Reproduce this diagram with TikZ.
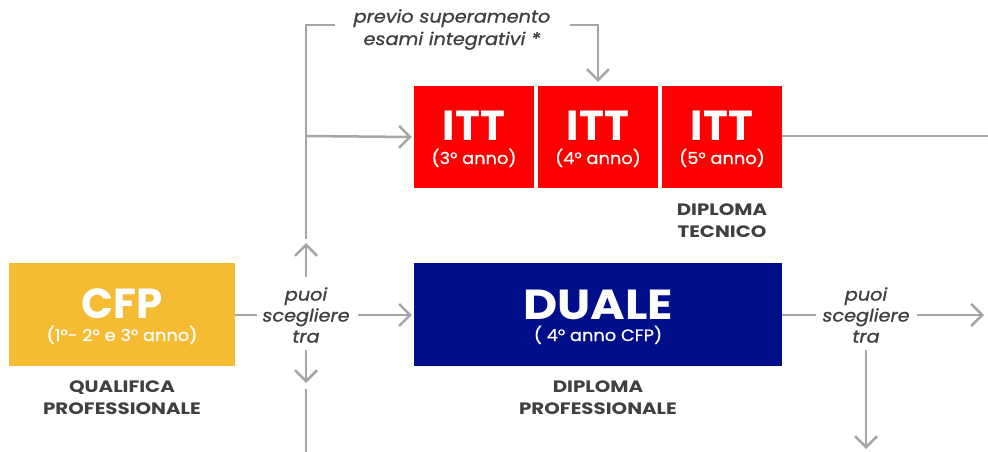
\documentclass[tikz,border=0pt]{standalone}
\usepackage{fontspec}
\setmainfont{Poppins}
\newfontfamily\labfont[FakeStretch=1.2]{Poppins}
\newfontfamily\subfont[FakeStretch=1.08,FakeBold=0.7]{Poppins}
\newfontfamily\notefont[FakeStretch=1.1,FakeBold=1]{Poppins}
\newfontfamily\widetitle[FakeStretch=1.12]{Poppins}
\usetikzlibrary{arrows.meta}
\definecolor{cfpY}{RGB}{244,187,51}
\definecolor{ittR}{RGB}{255,0,0}
\definecolor{dualeB}{RGB}{0,14,138}
\definecolor{lineG}{RGB}{166,166,166}
\definecolor{txtD}{RGB}{64,64,64}
\tikzset{
  box/.style={inner sep=0pt, draw=none, minimum width=#1},
  box/.default=120pt,
  title/.style={anchor=base, text=white, font=\fontsize{42}{42}\selectfont\bfseries, inner sep=0pt, text depth=0pt},
  subt/.style={anchor=base, text=white, font=\subfont\fontsize{16.5}{20}\selectfont, inner sep=0pt, text height=9pt},
  lab/.style={align=center, text=txtD, font=\labfont\fontsize{16.5}{22}\selectfont\bfseries, inner sep=0pt},
  note/.style={align=center, text=txtD, font=\notefont\fontsize{17.5}{21}\selectfont\itshape, inner sep=0pt},
  conn/.style={draw=lineG, line width=2.5pt, line join=miter},
  arr/.style={conn, -{Straight Barb[length=11pt,width=22pt]}}
}
\begin{document}
\begin{tikzpicture}[x=1pt,y=-1pt]
\useasboundingbox (0,0) rectangle (988,452);
% boxes
\node[box=226pt, minimum height=103pt, fill=cfpY] (cfp) at (122,314.5) {};
\node[box=120pt, minimum height=102pt, fill=ittR] (itt1) at (474,137) {};
\node[box=120pt, minimum height=102pt, fill=ittR] (itt2) at (598,137) {};
\node[box=120pt, minimum height=102pt, fill=ittR] (itt3) at (722,137) {};
\node[box=368pt, minimum height=103pt, fill=dualeB] (duale) at (598,314.5) {};
% box texts
\node[title] (cfpT) at ([yshift=-3.5pt]cfp.center) {CFP};
\node[subt] (cfpS) at ([yshift=-26.5pt]cfp.center) {(1°- 2° e 3° anno)};
\node[title] (itt1T) at ([yshift=-3pt]itt1.center) {ITT};
\node[subt] (itt1S) at ([yshift=-27pt]itt1.center) {(3° anno)};
\node[title] (itt2T) at ([yshift=-3pt]itt2.center) {ITT};
\node[subt] (itt2S) at ([yshift=-27pt]itt2.center) {(4° anno)};
\node[title] (itt3T) at ([yshift=-3pt]itt3.center) {ITT};
\node[subt] (itt3S) at ([yshift=-27pt]itt3.center) {(5° anno)};
\node[title, font=\widetitle\fontsize{42}{42}\selectfont\bfseries] (dualeT) at ([yshift=-5pt]duale.center) {DUALE};
\node[subt] (dualeS) at ([yshift=-26.5pt]duale.center) {( 4° anno CFP)};
% labels
\node[lab] (qual) at (122,398) {QUALIFICA\\PROFESSIONALE};
\node[lab] (diptec) at (722,221) {DIPLOMA\\TECNICO};
\node[lab] (dipprof) at (598,398) {DIPLOMA\\PROFESSIONALE};
% notes
\node[note] (ch1) at (306,315) {puoi\\scegliere\\tra};
\node[note] (ch2) at (866,315) {puoi\\scegliere\\tra};
\node[note, font=\notefont\fontsize{17.5}{22.5}\selectfont\itshape] (prev) at (452,29.5) {previo superamento\\esami integrativi *};
% coordinates
\coordinate (jtop) at (306,25);
\coordinate (jitt) at (306,136);
\coordinate (jgap) at (306,239);
\coordinate (upS) at (306,277);
\coordinate (upT) at (306,243);
\coordinate (dnS) at (306,350);
\coordinate (dnT) at (306,383);
\coordinate (botS) at (306,389);
\coordinate (botE) at (306,452);
\coordinate (prevL) at (335,25);
\coordinate (prevR) at (570,25);
\coordinate (prevC) at (598,25);
\coordinate (ittEnd) at (988,136);
\coordinate (ch2R) at (984,315);
\coordinate (ch2D) at (866,449);
\coordinate (ch2S) at (866,350);
% connectors
\draw[conn] (prevL) -- (jtop) -- (jgap);
\draw[arr] (jitt) -- ([xshift=-2pt]itt1.west);
\draw[arr] (prevR) -- (prevC) -- ([yshift=4pt]itt2.north);
\draw[arr] (upS) -- (upT);
\draw[arr] (dnS) -- (dnT);
\draw[conn] (botS) -- (botE);
\draw[conn] (cfp.east |- 0,315) -- (257,315);
\draw[arr] (358,315) -- ([xshift=-2pt]duale.west |- 0,315);
\draw[conn] (itt3.east |- 0,136) -- (ittEnd);
\draw[conn] (duale.east |- 0,315) -- (816,315);
\draw[arr] (917,315) -- (ch2R);
\draw[arr] (ch2S) -- (ch2D);
\end{tikzpicture}
\end{document}
